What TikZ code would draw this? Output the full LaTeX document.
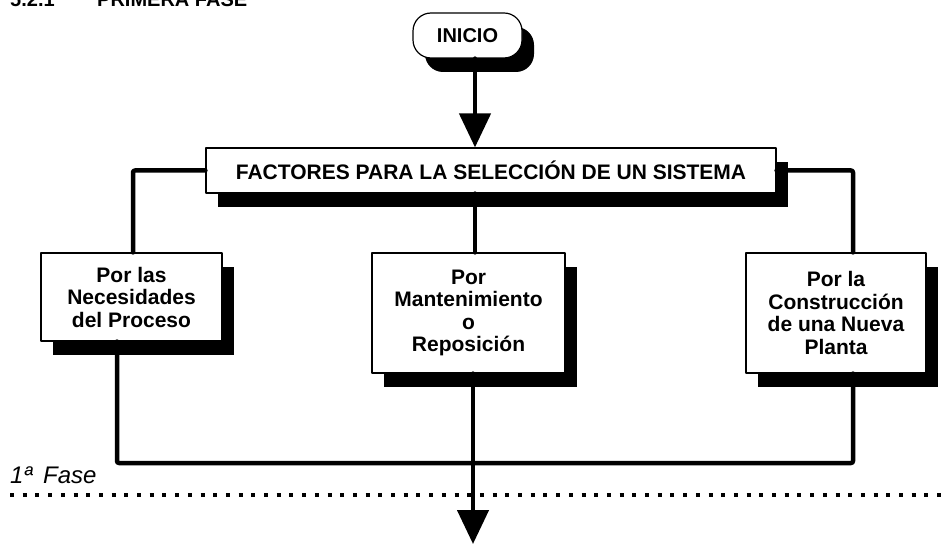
\documentclass[tikz,border=0pt]{standalone}
\usepackage{fontspec}
\setmainfont{Liberation Sans}
\usetikzlibrary{positioning,shadows,arrows.meta}

\begin{document}
\begin{tikzpicture}[x=1pt,y=-1pt,line join=round,line cap=round]
	\tikzset{
		sombra/.style={drop shadow={shadow xshift=12pt,shadow yshift=-14pt,fill=black,opacity=1}},
		caja/.style={draw,fill=white,line width=1.2pt,sombra,align=center,inner sep=0pt,
			font=\fontsize{21}{22.5}\selectfont\bfseries},
		conn/.style={line width=4.5pt,rounded corners=2pt},
		flecha/.style={line width=4.5pt,-{Triangle[length=34pt,width=31pt]}},
		punteado/.style={line width=4pt,line cap=butt,dash pattern=on 4pt off 8.7pt},
		titulo/.style={anchor=base west,inner sep=0pt,font=\fontsize{20}{22}\selectfont\bfseries}
	}
	\useasboundingbox (0,0) rectangle (947,545);
	
	% encabezado (cortado arriba)
	\node[titulo] (num) at (10,7) {5.2.1};
	\node[titulo] (tit) at (97,7) {PRIMERA FASE};
	
	% cajas
	\node[caja,rounded corners=18pt,minimum width=109pt,minimum height=45pt,
		font=\fontsize{20}{21}\selectfont\bfseries] (inicio) at (467.5,35.5) {INICIO};
	\node[caja,minimum width=570pt,minimum height=45pt] (fact) at (491,170.5)
		{FACTORES PARA LA SELECCIÓN DE UN SISTEMA};
	\node[caja,minimum width=181pt,minimum height=88pt] (nec) at (131.5,297)
		{Por las\\Necesidades\\del Proceso};
	\node[caja,minimum width=193pt,minimum height=120pt] (mant) at (468.5,313)
		{Por\\Mantenimiento\\o\\Reposición};
	\node[caja,minimum width=180pt,minimum height=120pt] (nueva) at (836,313)
		{Por la\\Construcción\\de una Nueva\\Planta};
	
	% conectores
	\coordinate (a1) at (475,0);
	\draw[flecha] (inicio.south -| a1) -- (fact.north -| a1);
	\draw[conn] (fact.west) -| ([xshift=1.5pt]nec.north);
	\draw[conn] (fact.east) -| ([xshift=17pt]nueva.north);
	\draw[conn] (fact.south -| a1) -- (mant.north -| a1);
	
	\coordinate (jn) at (473,463);
	\draw[conn] ([xshift=-14.5pt]nec.south) |- (jn) -| ([xshift=17pt]nueva.south);
	
	% linea de fase
	\coordinate (p1) at (10,495);
	\coordinate (p2) at (947,495);
	\draw[punteado] (p1) -- (p2);
	\node[anchor=base west,inner sep=0pt,font=\fontsize{24}{25}\selectfont\itshape] (fase) at (10,483)
		{1ª\hspace{0.45em}Fase};
	
	\coordinate (fin) at (473,544);
	\draw[flecha] (mant.south -| jn) -- (fin);
\end{tikzpicture}
\end{document}
